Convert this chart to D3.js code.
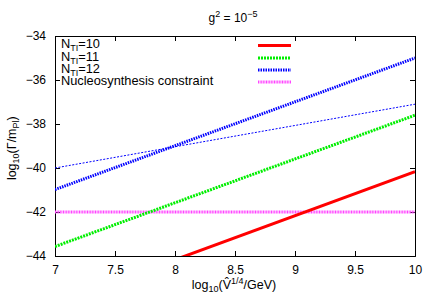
<!DOCTYPE html>
<html>
<head>
<meta charset="utf-8">
<script src="https://cdn.jsdelivr.net/npm/d3@7"></script>
<style>
  body { margin: 0; background: #fff; }
  text { font-family: "Liberation Sans", Arial, sans-serif; fill: #000; }
</style>
</head>
<body>
<svg id="chart" width="436" height="305"></svg>
<script>
// data
const xTicks = [7, 7.5, 8, 8.5, 9, 9.5, 10]
const yTicks = [-44, -42, -40, -38, -36, -34]

const seriesNames = ['N_TI=10', 'N_TI=11', 'N_TI=12', 'Nucleosynthesis constraint', '']
const seriesX = [7, 10]
const nti10 = [-46.17, -40.17]
const nti11 = [-43.57, -37.6]
const nti12 = [-40.98, -35.0]
const nucleo = [-42, -42]
const thinBlue = [-40.0, -37.1]

const styles = [
  {color: '#ff0000', width: 3, dash: null},
  {color: '#00ee00', width: 3, dash: '2,1'},
  {color: '#0000ff', width: 3, dash: '1.5,1'},
  {color: '#ff44ff', width: 3, dash: '1,0.6'},
  {color: '#0000ff', width: 1, dash: '2,1.5'}
]

const margin = {left: 55, right: 21, top: 36, bottom: 49}
const W = 436, H = 305
const svg = d3.select('#chart')

const x = d3.scaleLinear().domain([7, 10]).range([margin.left, W - margin.right])
const y = d3.scaleLinear().domain([-44, -34]).range([H - margin.bottom, margin.top])

svg.append('clipPath').attr('id', 'clip')
  .append('rect')
  .attr('x', x(7)).attr('y', y(-34))
  .attr('width', x(10) - x(7)).attr('height', y(-44) - y(-34))

// axes, ticks pointing inward, mirrored
const tickLen = 5
svg.append('g').attr('transform', `translate(0,${y(-44)})`)
  .call(d3.axisBottom(x).tickValues(xTicks).tickSize(-tickLen).tickPadding(9).tickFormat(d3.format('')))
svg.append('g').attr('transform', `translate(0,${y(-34)})`)
  .call(d3.axisTop(x).tickValues(xTicks).tickSize(-tickLen).tickFormat(''))
svg.append('g').attr('transform', `translate(${x(7)},0)`)
  .call(d3.axisLeft(y).tickValues(yTicks).tickSize(-tickLen).tickPadding(9).tickFormat(d => d3.format('')(d).replace('-', '\u2212')))
svg.append('g').attr('transform', `translate(${x(10)},0)`)
  .call(d3.axisRight(y).tickValues(yTicks).tickSize(-tickLen).tickFormat(''))

svg.selectAll('.domain').attr('stroke', '#000').attr('stroke-width', 1)
svg.selectAll('.tick line').attr('stroke', '#000')
svg.selectAll('.tick text').style('font-size', '12px').style('font-family', '"Liberation Sans", Arial, sans-serif')

// lines
const allSeries = [nti10, nti11, nti12, nucleo, thinBlue]
const line = d3.line()
  .x((d, i) => x(seriesX[i]))
  .y((d) => y(d))

const plot = svg.append('g').attr('clip-path', 'url(#clip)')
// draw nucleosynthesis first, then others
const order = [4, 3, 1, 2, 0]
order.forEach((k) => {
  const s = styles[k]
  plot.append('path')
    .datum(allSeries[k])
    .attr('d', line)
    .attr('fill', 'none')
    .attr('stroke', s.color)
    .attr('stroke-width', s.width)
    .attr('stroke-dasharray', s.dash)
})

// legend
const legend = svg.append('g')
const legY = [45.5, 58, 70, 82]
for (let k = 0; k < 4; k++) {
  const t = legend.append('text')
    .attr('x', 61).attr('y', legY[k] + 2.5)
    .style('font-size', '12.8px')
  if (k < 3) {
    t.append('tspan').text('N')
    t.append('tspan').text('TI').attr('dy', 3).style('font-size', '9px')
    t.append('tspan').text('=' + (10 + k)).attr('dy', -3)
  } else {
    t.text(seriesNames[3])
  }
  legend.append('line')
    .attr('x1', 258).attr('x2', 291)
    .attr('y1', legY[k]).attr('y2', legY[k])
    .attr('stroke', styles[k].color)
    .attr('stroke-width', styles[k].width)
    .attr('stroke-dasharray', styles[k].dash)
}

// title
const title = svg.append('text')
  .attr('x', 233).attr('y', 22)
  .attr('text-anchor', 'middle')
  .style('font-size', '12px')
title.append('tspan').text('g')
title.append('tspan').text('2').attr('dy', -5).style('font-size', '9px')
title.append('tspan').text(' = 10').attr('dy', 5)
title.append('tspan').text('\u22125').attr('dy', -5).style('font-size', '9px')

// x label
const xl = svg.append('text')
  .attr('x', 234).attr('y', 289)
  .attr('text-anchor', 'middle')
  .style('font-size', '12.5px')
xl.append('tspan').text('log')
xl.append('tspan').text('10').attr('dy', 3).style('font-size', '9px')
xl.append('tspan').text('(V\u0302').attr('dy', -3)
xl.append('tspan').text('1/4').attr('dy', -5).style('font-size', '9px')
xl.append('tspan').text('/GeV)').attr('dy', 5)

// y label
const yl = svg.append('text')
  .attr('transform', `translate(16,${y(-39.1)}) rotate(-90)`)
  .attr('text-anchor', 'middle')
  .style('font-size', '12.5px')
yl.append('tspan').text('log')
yl.append('tspan').text('10').attr('dy', 3).style('font-size', '9px')
yl.append('tspan').text('(\u0393/m').attr('dy', -3)
yl.append('tspan').text('Pl').attr('dy', 3).style('font-size', '9px')
yl.append('tspan').text(')').attr('dy', -3)
</script>
</body>
</html>
